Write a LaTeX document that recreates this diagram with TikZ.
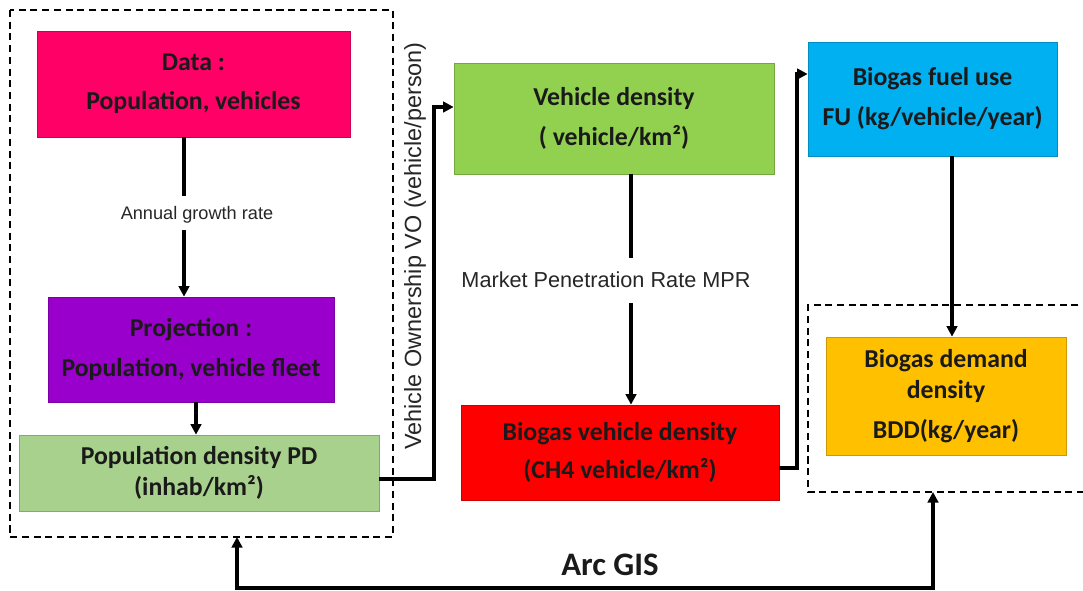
\documentclass[tikz,border=0pt]{standalone}
\usepackage{fontspec}
\setmainfont{Carlito}
\newfontfamily\labelfont{Liberation Sans}
\usetikzlibrary{arrows.meta}
\newdimen\pxu \pxu=0.03cm
\definecolor{cData}{HTML}{FF0066}
\definecolor{cProj}{HTML}{9900CC}
\definecolor{cPD}{HTML}{A9D18E}
\definecolor{cVD}{HTML}{92D050}
\definecolor{cBVD}{HTML}{FF0000}
\definecolor{cFU}{HTML}{00B0F0}
\definecolor{cBDD}{HTML}{FFC000}
\definecolor{ink}{HTML}{1A1A1A}
\tikzset{
  box/.style={draw=#1!80!black, fill=#1, line width=0.6pt, inner sep=0pt,
    align=center, text=ink, font=\bfseries\fontsize{22}{33}\selectfont},
  flow/.style={line width=3pt, -{Triangle[length=9pt,width=9pt]}},
  link/.style={line width=3pt},
  frame/.style={line width=1.2pt, dash pattern=on 6pt off 4pt},
  lbl/.style={font=\labelfont, text=black!85},
}
\begin{document}
\begin{tikzpicture}[x=0.03cm, y=-0.03cm]
\useasboundingbox (0,0) rectangle (1083,591);

% dashed frames
\draw[frame] (10,10) rectangle (393,537);
\coordinate (leftframe) at (237,537);
\draw[frame] (1090,305) -- (808,305) -- (808,492) -- (1090,492);
\coordinate (rightframe) at (933,492);

% boxes
\node[box=cData, minimum width=313\pxu, minimum height=106\pxu] (data) at (193.5,84)
  {Data :\\Population, vehicles};
\node[box=cProj, minimum width=286\pxu, minimum height=105\pxu,
  font=\bfseries\fontsize{22}{34}\selectfont] (proj) at (191,349.5)
  {Projection :\\Population, vehicle fleet};
\node[box=cPD, minimum width=360\pxu, minimum height=76\pxu,
  font=\bfseries\fontsize{22}{26}\selectfont] (pd) at (199,473)
  {Population density PD\\(inhab/km²)};
\node[box=cVD, minimum width=320\pxu, minimum height=111\pxu,
  font=\bfseries\fontsize{22}{34}\selectfont] (vd) at (614,118.5)
  {Vehicle density\\( vehicle/km²)};
\node[box=cBVD, minimum width=318\pxu, minimum height=95\pxu,
  font=\bfseries\fontsize{22}{32}\selectfont] (bvd) at (620,452.5)
  {Biogas vehicle density\\(CH4 vehicle/km²)};
\node[box=cFU, minimum width=249\pxu, minimum height=114\pxu,
  font=\bfseries\fontsize{22}{34}\selectfont] (fu) at (932.5,99)
  {Biogas fuel use\\FU (kg/vehicle/year)};
\node[box=cBDD, minimum width=240\pxu, minimum height=118\pxu,
  font=\bfseries\fontsize{22}{27}\selectfont] (bdd) at (946,396)
  {Biogas demand\\density\\[7pt]BDD(kg/year)};

% labels
\node[lbl, font=\labelfont\fontsize{15.5}{18}\selectfont] (agr) at (197,215) {Annual growth rate};
\node[lbl, font=\labelfont\fontsize{18.5}{22}\selectfont] (mpr) at (606,280) {Market Penetration Rate MPR};
\node[lbl, font=\labelfont\fontsize{20}{24}\selectfont, rotate=90] (vo) at (415,246)
  {Vehicle Ownership VO (vehicle/person)};
\node[text=ink, font=\bfseries\fontsize{28}{32}\selectfont] (gis) at (610,565) {Arc GIS};

% connectors
\draw[link] (data.south -| 184,0) -- (184,196);
\draw[flow] (184,230) -- (proj.north -| 184,0);
\draw[flow] (proj.south -| 196,0) -- (pd.north -| 196,0);
\draw[flow] (pd.east |- 0,479) -- (434,479) -- (434,107) -- (vd.west |- 0,107);
\draw[link] (vd.south -| 631,0) -- (631,258);
\draw[flow] (631,303) -- (bvd.north -| 631,0);
\draw[flow] (bvd.east |- 0,468) -- (797,468) -- (797,74) -- (fu.west |- 0,74);
\draw[flow] (fu.south -| 952,0) -- (bdd.north -| 952,0);
\draw[line width=3pt, {Triangle[length=9pt,width=9pt]}-{Triangle[length=9pt,width=9pt]}]
  (leftframe) -- (237,588) -- (933,588) -- (rightframe);
\end{tikzpicture}
\end{document}
